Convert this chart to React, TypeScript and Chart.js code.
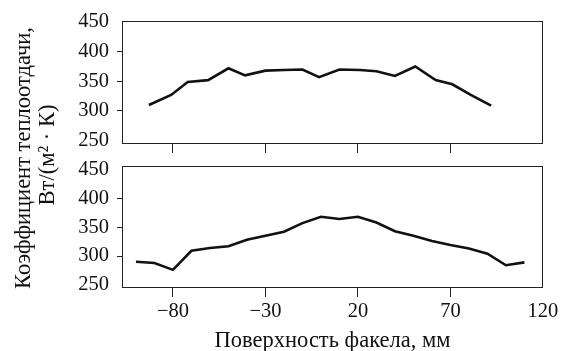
import React, { useEffect, useRef } from "react";
import { Chart, registerables } from "chart.js";

Chart.register(...registerables);

// ---- data ----
const topX = [-93, -81, -72, -61, -50, -41, -30, -20, -10, -1, 10, 21, 30, 40, 51, 62, 71, 81, 92];
const topY = [310, 327, 349, 352, 372, 360, 368, 369, 370, 357, 370, 369, 367, 359, 375, 352, 345, 327, 309];
const bottomX = [-100, -90, -80, -70, -60, -50, -40, -30, -20, -10, 0, 10, 20, 30, 40, 50, 60, 70, 80, 90, 100, 110];
const bottomY = [290, 288, 276, 309, 314, 317, 328, 335, 342, 357, 368, 364, 368, 358, 343, 335, 326, 319, 313, 304, 284, 289];
const xTicks = [-80, -30, 20, 70, 120];
const yTicks = [250, 300, 350, 400, 450];
const xTitle = "Поверхность факела, мм";
const yTitleLines = ["Коэффициент теплоотдачи,", "Вт/(м² · К)"];

const W = 563;
const H = 351;
const FONT = "'Liberation Serif', 'Times New Roman', serif";
const INK = "#111";

const boxPlugin = {
  id: "box",
  afterDraw(chart: any) {
    const { ctx, chartArea: a } = chart;
    ctx.save();
    ctx.strokeStyle = "#222";
    ctx.lineWidth = 1;
    const l = Math.round(a.left) - 0.5;
    const t = Math.round(a.top) - 0.5;
    const r = Math.round(a.right) + 0.5;
    const b = Math.round(a.bottom) + 0.5;
    ctx.strokeRect(l, t, r - l, b - t);
    ctx.restore();
  },
};

const yTitlePlugin = {
  id: "yTitle",
  afterDraw(chart: any) {
    const { ctx } = chart;
    const draw = (text: string, x: number, y: number) => {
      ctx.save();
      ctx.fillStyle = INK;
      ctx.font = `22.5px ${FONT}`;
      ctx.textAlign = "center";
      ctx.textBaseline = "alphabetic";
      ctx.translate(x, y);
      ctx.rotate(-Math.PI / 2);
      ctx.fillText(text, 0, 0);
      ctx.restore();
    };
    draw(yTitleLines[0], 30, 158);
    draw(yTitleLines[1], 54, 155);
  },
};

function makeConfig(xs: number[], ys: number[], isTop: boolean): any {
  const data = xs.map((x, i) => ({ x, y: ys[i] }));
  return {
    type: "line",
    data: {
      datasets: [
        {
          data,
          borderColor: INK,
          borderWidth: 2.6,
          pointRadius: 0,
          tension: 0,
          fill: false,
        },
      ],
    },
    plugins: isTop ? [boxPlugin, yTitlePlugin] : [boxPlugin],
    options: {
      animation: false,
      responsive: false,
      maintainAspectRatio: false,
      events: [],
      layout: {
        padding: { left: 0, right: 21, top: isTop ? 22 : 167, bottom: 0 },
      },
      plugins: {
        legend: { display: false },
        tooltip: { enabled: false },
        title: { display: false },
      },
      scales: {
        x: {
          type: "linear",
          min: -107,
          max: 119.5,
          afterBuildTicks: (s: any) => {
            s.ticks = xTicks.map((v) => ({ value: v }));
          },
          afterFit: (s: any) => {
            s.height = isTop ? H - 143 : H - 287;
            s.paddingLeft = 0;
            s.paddingRight = 0;
          },
          border: { display: false },
          grid: {
            display: true,
            drawOnChartArea: false,
            drawTicks: true,
            tickLength: 10,
            lineWidth: 1,
            color: (c: any) => (c.tick && c.tick.value === 120 ? "rgba(0,0,0,0)" : "#222"),
          },
          ticks: {
            display: !isTop,
            autoSkip: false,
            maxRotation: 0,
            padding: 2,
            color: INK,
            font: { family: FONT, size: 20.5 },
            callback: (v: any) => (Number(v) < 0 ? "−" + Math.abs(Number(v)) : String(v)),
          },
          title: {
            display: !isTop,
            text: xTitle,
            color: INK,
            font: { family: FONT, size: 22.5, lineHeight: 0.85 },
            padding: { top: 0, bottom: 0 },
          },
        },
        y: {
          type: "linear",
          min: isTop ? 246 : 246.3,
          max: isTop ? 450 : 454.2,
          afterBuildTicks: (s: any) => {
            s.ticks = yTicks.map((v) => ({ value: v }));
          },
          afterFit: (s: any) => {
            s.width = 123;
            s.paddingTop = 0;
            s.paddingBottom = 0;
          },
          border: { display: false },
          grid: {
            display: true,
            drawOnChartArea: false,
            drawTicks: true,
            tickLength: 6,
            lineWidth: 1,
            color: (c: any) =>
              c.tick && (c.tick.value === 250 || c.tick.value === 450) ? "rgba(0,0,0,0)" : "#222",
          },
          ticks: {
            autoSkip: false,
            padding: 8,
            color: INK,
            font: { family: FONT, size: 20.5 },
          },
        },
      },
    },
  };
}

export default function App() {
  const topRef = useRef<HTMLCanvasElement | null>(null);
  const bottomRef = useRef<HTMLCanvasElement | null>(null);

  useEffect(() => {
    const charts: Chart[] = [];
    if (bottomRef.current) charts.push(new Chart(bottomRef.current, makeConfig(bottomX, bottomY, false)));
    if (topRef.current) charts.push(new Chart(topRef.current, makeConfig(topX, topY, true)));
    return () => charts.forEach((c) => c.destroy());
  }, []);

  const canvasStyle: React.CSSProperties = {
    position: "absolute",
    left: 0,
    top: 0,
    width: W,
    height: H,
  };

  return (
    <div
      style={{
        position: "fixed",
        left: 0,
        top: 0,
        width: W,
        height: H,
        background: "#fff",
        overflow: "hidden",
      }}
    >
      <canvas ref={bottomRef} width={W} height={H} style={canvasStyle} />
      <canvas ref={topRef} width={W} height={H} style={canvasStyle} />
    </div>
  );
}
